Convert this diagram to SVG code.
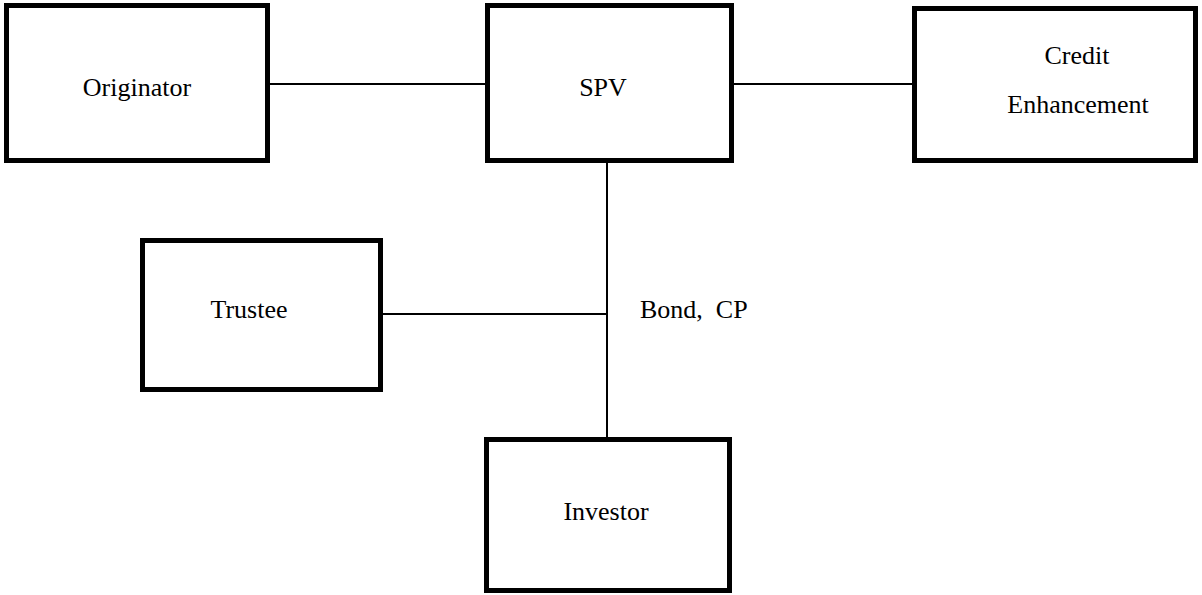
<svg xmlns="http://www.w3.org/2000/svg" width="1202" height="595" viewBox="0 0 1202 595">
<style>
.box{fill:#fff;stroke:#000;stroke-width:5}
.lbl{font-family:"Liberation Serif","Times New Roman",serif;font-size:26px;fill:#000;text-anchor:middle}
.conn line{stroke:#000;stroke-width:2}
</style>
<rect width="1202" height="595" fill="#fff"/>
<g class="conn" id="connectors">
<line x1="270" y1="84" x2="485" y2="84"/>
<line x1="734" y1="84" x2="912" y2="84"/>
<line x1="607" y1="163" x2="607" y2="437"/>
<line x1="383" y1="314" x2="607" y2="314"/>
</g>
<g id="originator"><rect class="box" x="6.5" y="5.5" width="261" height="155"/><text class="lbl" x="137" y="96">Originator</text></g>
<g id="spv"><rect class="box" x="487.5" y="5.5" width="244" height="155"/><text class="lbl" x="603" y="96">SPV</text></g>
<g id="credit"><rect class="box" x="914.5" y="8.5" width="281" height="152"/><text class="lbl" x="1077" y="64">Credit</text><text class="lbl" x="1078" y="113">Enhancement</text></g>
<g id="trustee"><rect class="box" x="142.5" y="240.5" width="238" height="149"/><text class="lbl" x="249" y="318">Trustee</text></g>
<g id="investor"><rect class="box" x="486.5" y="439.5" width="243" height="151"/><text class="lbl" x="606" y="520">Investor</text></g>
<text class="lbl" x="640" y="318" style="text-anchor:start;white-space:pre" xml:space="preserve">Bond,  CP</text>
</svg>
